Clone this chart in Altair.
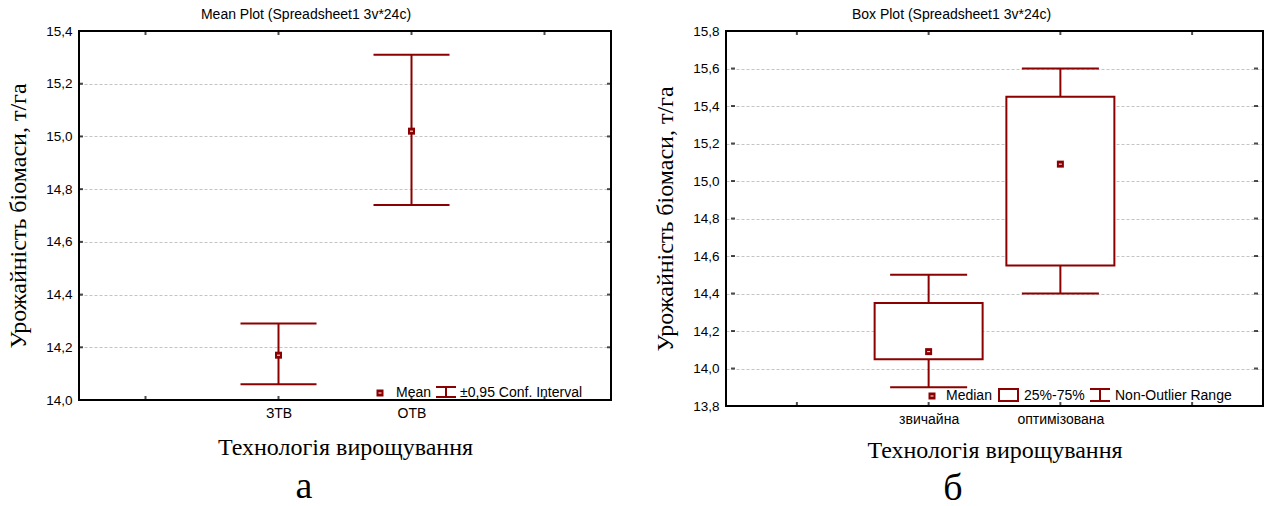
import altair as alt
import pandas as pd

# ---- Mean plot: group means with 0.95 confidence intervals ----
mean_groups = ["ЗТВ", "ОТВ"]
mean_values = [14.17, 15.02]
ci_lower = [14.06, 14.74]
ci_upper = [14.29, 15.31]
mean_ticks = [14.0, 14.2, 14.4, 14.6, 14.8, 15.0, 15.2, 15.4]

# ---- Box plot: median, quartiles and non-outlier range ----
box_groups = ["звичайна", "оптимізована"]
box_median = [14.09, 15.09]
box_q1 = [14.05, 14.55]
box_q3 = [14.35, 15.45]
box_min = [13.90, 14.40]
box_max = [14.50, 15.60]
box_ticks = [13.8, 14.0, 14.2, 14.4, 14.6, 14.8, 15.0, 15.2, 15.4, 15.6, 15.8]

# four category slots on the x axis; the groups sit in slots 2 and 3
slots = [1, 2, 3, 4]
first_slot = 2

y_title = "Урожайність біомаси, т/га"
x_title = "Технологія вирощування"

DARK_RED = "#8B0000"
SANS = "Liberation Sans"
SERIF = "Liberation Serif"


def label_expr(groups):
    expr = "''"
    for i, g in reversed(list(enumerate(groups))):
        expr = f"datum.value == {first_slot + i} ? '{g}' : {expr}"
    return expr


def encodings(groups, ticks, width, height, x_title_y):
    xs = alt.Scale(domain=[slots[0] - 0.5, slots[-1] + 0.5], nice=False, zero=False)
    ys = alt.Scale(domain=[ticks[0], ticks[-1]], nice=False, zero=False)
    xa = alt.Axis(
        values=[first_slot + i for i in range(len(groups))],
        labelExpr=label_expr(groups), grid=False, ticks=False, domain=False,
        labelFont=SANS, labelFontSize=14, labelColor="black", labelPadding=6,
        title=x_title, titleFont=SERIF, titleFontSize=24, titleFontWeight="normal",
        titleColor="black", titleX=width / 2, titleY=x_title_y,
        titleBaseline="middle", titleAlign="center",
    )
    ya = alt.Axis(
        values=ticks, labelExpr="replace(format(datum.value, '.1f'), '.', ',')",
        grid=True, gridColor="#c4c4c4", gridDash=[3, 2], gridWidth=1,
        ticks=False, domain=False, labelFont=SANS, labelFontSize=13.5,
        labelColor="black", labelPadding=7, labelOverlap=False,
        title=y_title, titleFont=SERIF, titleFontSize=24, titleFontWeight="normal",
        titleColor="black", titleX=-61, titleY=height / 2, titleAngle=270,
        titleBaseline="middle", titleAlign="center",
    )
    return xs, ys, xa, ya


def border_layers(ticks, xs, ys, xa, ya, width, height):
    lo, hi = ticks[0], ticks[-1]
    xlo, xhi = slots[0] - 0.5, slots[-1] + 0.5
    top = pd.DataFrame({"pos": slots, "val": [hi] * len(slots)})
    bottom = pd.DataFrame({"pos": slots, "val": [lo] * len(slots)})
    left = pd.DataFrame({"pos": [xlo] * len(ticks), "val": ticks})
    right = pd.DataFrame({"pos": [xhi] * len(ticks), "val": ticks})

    def enc(c):
        return c.encode(
            x=alt.X("pos:Q", scale=xs, axis=xa),
            y=alt.Y("val:Q", scale=ys, axis=ya),
        )

    layers = [
        enc(alt.Chart(top).mark_tick(orient="vertical", size=4, thickness=2,
                                     color="black", yOffset=2)),
        enc(alt.Chart(bottom).mark_tick(orient="vertical", size=4, thickness=2,
                                        color="black", yOffset=-2)),
        enc(alt.Chart(left).mark_tick(orient="horizontal", size=4, thickness=2,
                                      color="black", xOffset=2)),
        enc(alt.Chart(right).mark_tick(orient="horizontal", size=4, thickness=2,
                                       color="black", xOffset=-2)),
    ]
    frame = alt.Chart(pd.DataFrame({"k": [0]})).mark_rect(
        fillOpacity=0, stroke="black", strokeWidth=2
    ).encode(x=alt.value(0), x2=alt.value(width), y=alt.value(0), y2=alt.value(height))
    layers.append(frame)
    return layers


def text_at(text, x, y, size=14, font=SANS, align="left", color="black"):
    return alt.Chart(pd.DataFrame({"t": [text]})).mark_text(
        font=font, fontSize=size, align=align, baseline="middle", color=color
    ).encode(text="t:N", x=alt.value(x), y=alt.value(y))


def rule_at(x, x2, y, y2, color=DARK_RED, width=2, opacity=1):
    return alt.Chart(pd.DataFrame({"k": [0]})).mark_rule(
        color=color, strokeWidth=width, strokeOpacity=opacity
    ).encode(x=alt.value(x), x2=alt.value(x2), y=alt.value(y), y2=alt.value(y2))


def marker(data, xs, ys, xa, ya, field):
    sq = alt.Chart(data).mark_square(size=49, color=DARK_RED, opacity=1).encode(
        x=alt.X("pos:Q", scale=xs, axis=xa), y=alt.Y(f"{field}:Q", scale=ys, axis=ya)
    )
    dash = alt.Chart(data).mark_point(
        shape="M-1,0L1,0", size=9, color="white", strokeWidth=1, filled=False, opacity=1
    ).encode(
        x=alt.X("pos:Q", scale=xs, axis=xa), y=alt.Y(f"{field}:Q", scale=ys, axis=ya)
    )
    return [sq, dash]


def legend_marker(x, y):
    sq = alt.Chart(pd.DataFrame({"k": [0]})).mark_square(
        size=49, color=DARK_RED, opacity=1).encode(x=alt.value(x), y=alt.value(y))
    dash = alt.Chart(pd.DataFrame({"k": [0]})).mark_point(
        shape="M-1,0L1,0", size=9, color="white", strokeWidth=1, filled=False, opacity=1
    ).encode(x=alt.value(x), y=alt.value(y))
    return [sq, dash]


def panel_title(text, dx):
    return alt.TitleParams(
        text, font=SANS, fontSize=14, fontWeight="normal", color="black",
        anchor="middle", frame="group", dx=dx, offset=2,
    )


# ================= Mean plot =================
W1, H1 = 532, 369
xs1, ys1, xa1, ya1 = encodings(mean_groups, mean_ticks, W1, H1, 47)
mean_df = pd.DataFrame({
    "pos": [first_slot + i for i in range(len(mean_groups))],
    "group": mean_groups,
    "mean": mean_values,
    "lo": ci_lower,
    "hi": ci_upper,
})

ci_line = alt.Chart(mean_df).mark_rule(color=DARK_RED, strokeWidth=2).encode(
    x=alt.X("pos:Q", scale=xs1, axis=xa1),
    y=alt.Y("lo:Q", scale=ys1, axis=ya1),
    y2="hi:Q",
)
cap_lo = alt.Chart(mean_df).mark_tick(
    orient="horizontal", size=76, thickness=2, color=DARK_RED, opacity=1
).encode(x=alt.X("pos:Q", scale=xs1, axis=xa1), y=alt.Y("lo:Q", scale=ys1, axis=ya1))
cap_hi = alt.Chart(mean_df).mark_tick(
    orient="horizontal", size=76, thickness=2, color=DARK_RED, opacity=1
).encode(x=alt.X("pos:Q", scale=xs1, axis=xa1), y=alt.Y("hi:Q", scale=ys1, axis=ya1))

legend1 = (
    legend_marker(301, 362)
    + [text_at("Mean", 317, 362)]
    + [rule_at(357, 377, 356, 356), rule_at(357, 377, 366, 366), rule_at(367, 367, 356, 366)]
    + [text_at("±0,95 Conf. Interval", 381, 362)]
)

# invisible point fixing the page's left edge relative to the plot
anchor = rule_at(-79, -78, 100, 101, color="white", opacity=0)

panel_a = alt.layer(
    ci_line, cap_lo, cap_hi,
    *marker(mean_df, xs1, ys1, xa1, ya1, "mean"),
    *legend1,
    *border_layers(mean_ticks, xs1, ys1, xa1, ya1, W1, H1),
    text_at("а", 225, 456, size=38, font=SERIF, align="center"),
    anchor,
).properties(
    width=W1, height=H1,
    title=panel_title("Mean Plot (Spreadsheet1 3v*24c)", -39),
)

# ================= Box plot =================
W2, H2 = 537, 375
xs2, ys2, xa2, ya2 = encodings(box_groups, box_ticks, W2, H2, 44)
box_df = pd.DataFrame({
    "pos": [first_slot + i for i in range(len(box_groups))],
    "group": box_groups,
    "median": box_median,
    "q1": box_q1,
    "q3": box_q3,
    "wmin": box_min,
    "wmax": box_max,
})

whisk_lo = alt.Chart(box_df).mark_rule(color=DARK_RED, strokeWidth=2).encode(
    x=alt.X("pos:Q", scale=xs2, axis=xa2),
    y=alt.Y("wmin:Q", scale=ys2, axis=ya2), y2="q1:Q",
)
whisk_hi = alt.Chart(box_df).mark_rule(color=DARK_RED, strokeWidth=2).encode(
    x=alt.X("pos:Q", scale=xs2, axis=xa2),
    y=alt.Y("q3:Q", scale=ys2, axis=ya2), y2="wmax:Q",
)
wcap_lo = alt.Chart(box_df).mark_tick(
    orient="horizontal", size=77, thickness=2, color=DARK_RED, opacity=1
).encode(x=alt.X("pos:Q", scale=xs2, axis=xa2), y=alt.Y("wmin:Q", scale=ys2, axis=ya2))
wcap_hi = alt.Chart(box_df).mark_tick(
    orient="horizontal", size=77, thickness=2, color=DARK_RED, opacity=1
).encode(x=alt.X("pos:Q", scale=xs2, axis=xa2), y=alt.Y("wmax:Q", scale=ys2, axis=ya2))
box = alt.Chart(box_df).mark_bar(
    size=108, orient="vertical", fill="white", stroke=DARK_RED, strokeWidth=2
).encode(
    x=alt.X("pos:Q", scale=xs2, axis=xa2),
    y=alt.Y("q1:Q", scale=ys2, axis=ya2), y2="q3:Q",
)

box_icon = alt.Chart(pd.DataFrame({"k": [0]})).mark_rect(
    fill="white", stroke=DARK_RED, strokeWidth=2
).encode(x=alt.value(273), x2=alt.value(292), y=alt.value(358), y2=alt.value(370))

legend2 = (
    legend_marker(206, 365)
    + [text_at("Median", 220, 365), box_icon, text_at("25%-75%", 298, 365)]
    + [rule_at(364, 384, 358, 358), rule_at(364, 384, 370, 370), rule_at(374, 374, 358, 370)]
    + [text_at("Non-Outlier Range", 389, 365)]
)

panel_b = alt.layer(
    whisk_lo, whisk_hi, wcap_lo, wcap_hi, box,
    *marker(box_df, xs2, ys2, xa2, ya2, "median"),
    *legend2,
    *border_layers(box_ticks, xs2, ys2, xa2, ya2, W2, H2),
    text_at("б", 227, 458, size=38, font=SERIF, align="center"),
).properties(
    width=W2, height=H2,
    title=panel_title("Box Plot (Spreadsheet1 3v*24c)", -43),
)

chart = (
    alt.hconcat(panel_a, panel_b, spacing=115, bounds="flush")
    .properties(padding={"left": 0, "top": 8, "right": 0, "bottom": 0})
    .configure_view(stroke=None)
)

chart.save("out.html", embed_options={"renderer": "svg", "actions": False})
